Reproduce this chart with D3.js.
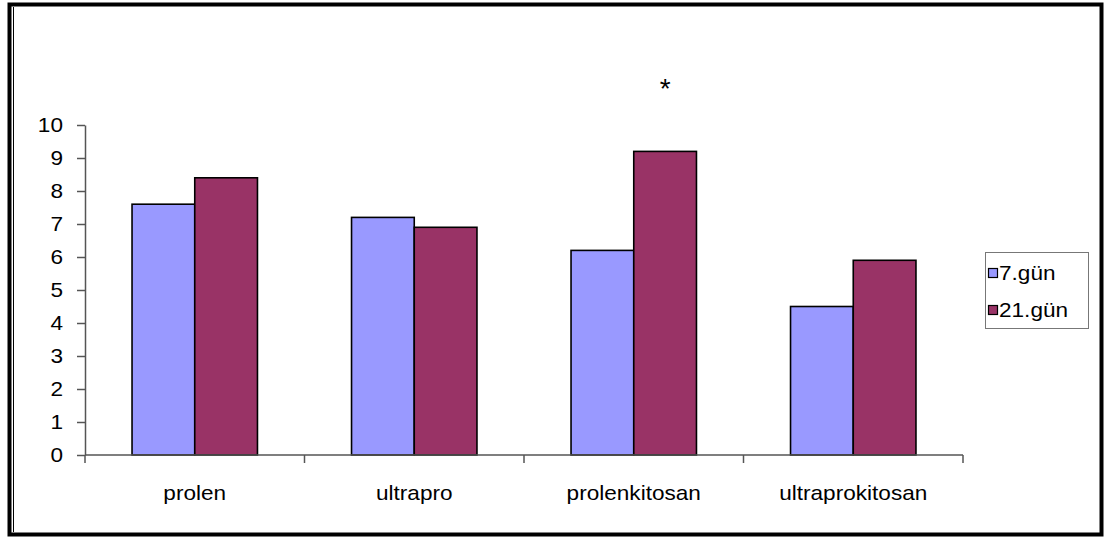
<!DOCTYPE html>
<html>
<head>
<meta charset="utf-8">
<script src="https://cdn.jsdelivr.net/npm/d3@7"></script>
<style>
  body { margin: 0; background: #fff; }
  text { font-family: "Liberation Sans", Arial, sans-serif; fill: #000; }
</style>
</head>
<body>
<script>
// chart data
const categories = ["prolen", "ultrapro", "prolenkitosan", "ultraprokitosan"];
const seriesNames = ["7.gün", "21.gün"];
const day7 = [7.6, 7.2, 6.2, 4.5];
const day21 = [8.4, 6.9, 9.2, 5.9];
const yTicks = [0, 1, 2, 3, 4, 5, 6, 7, 8, 9, 10];
// significance mark: category, series index, height in axis units
const marks = [{ cat: "prolenkitosan", series: 1, at: 11.4, label: "*" }];

const width = 1105, height = 538;
const colors = ["#9999ff", "#993366"];
const sx = 1.13; // source text looks stretched horizontally
const fs = 20;

const svg = d3.select("body").append("svg")
  .attr("width", width).attr("height", height);

// frame: thick outer border + thin inner line
svg.append("rect")
  .attr("x", 9.5).attr("y", 4.5).attr("width", 1092).attr("height", 530)
  .attr("fill", "none").attr("stroke", "#000").attr("stroke-width", 4);
svg.append("line").attr("x1", 13.5).attr("x2", 13.5).attr("y1", 7).attr("y2", 532)
  .attr("stroke", "#000").attr("stroke-width", 1);

const x = d3.scaleBand().domain(categories).range([85, 963]);
const xi = d3.scaleBand().domain([0, 1]).range([0, x.bandwidth()]).paddingOuter(0.75);
const y = d3.scaleLinear().domain([0, 10]).range([455, 125]);

const table = categories.map((c, i) => ({ cat: c, vals: [day7[i], day21[i]] }));

// bars
const groups = svg.append("g").selectAll("g")
  .data(table).join("g")
  .attr("transform", d => `translate(${x(d.cat)},0)`);

groups.selectAll("rect")
  .data(d => d.vals.map((v, k) => ({ k, v })))
  .join("rect")
  .attr("x", d => xi(d.k))
  .attr("width", xi.bandwidth())
  .attr("y", d => y(d.v))
  .attr("height", d => y(0) - y(d.v))
  .attr("fill", d => colors[d.k])
  .attr("stroke", "#000")
  .attr("stroke-width", 1.6);

// y axis
const yAxis = svg.append("g")
  .attr("transform", "translate(85,0)")
  .call(d3.axisLeft(y).tickValues(yTicks).tickSize(8).tickPadding(14).tickSizeOuter(0));
yAxis.select(".domain").attr("stroke", "#555").attr("stroke-width", 1.5);
yAxis.selectAll(".tick line").attr("stroke", "#555").attr("stroke-width", 1.5);
yAxis.selectAll(".tick text")
  .attr("font-size", fs)
  .attr("font-family", "Liberation Sans, Arial, sans-serif")
  .attr("fill", "#000")
  .attr("transform", function () {
    const t = d3.select(this);
    const xx = +t.attr("x");
    return `translate(${xx},0) scale(${sx},1) translate(${-xx},0)`;
  });

// x axis
const xg = svg.append("g");
xg.append("line")
  .attr("x1", x.range()[0]).attr("x2", x.range()[1])
  .attr("y1", y(0)).attr("y2", y(0))
  .attr("stroke", "#555").attr("stroke-width", 1.5);
const bounds = [x(categories[0])].concat(categories.map(c => x(c) + x.bandwidth()));
xg.selectAll(".xt").data(bounds).join("line")
  .attr("x1", d => d).attr("x2", d => d)
  .attr("y1", y(0)).attr("y2", y(0) + 8)
  .attr("stroke", "#555").attr("stroke-width", 1.5);
xg.selectAll("text").data(categories).join("text")
  .attr("transform", d => `translate(${x(d) + x.bandwidth() / 2},500) scale(${sx},1)`)
  .attr("text-anchor", "middle")
  .attr("font-size", fs)
  .text(d => d);

// significance marks
svg.selectAll(".mark").data(marks).join("text")
  .attr("class", "mark")
  .attr("transform", d => `translate(${x(d.cat) + xi(d.series) + xi.bandwidth() / 2},${y(d.at) + 19})`)
  .attr("text-anchor", "middle")
  .attr("font-size", 28)
  .text(d => d.label);

// legend
const legend = svg.append("g").attr("transform", "translate(985,252)");
legend.append("rect")
  .attr("x", 0.5).attr("y", 0.5).attr("width", 103).attr("height", 76)
  .attr("fill", "#fff").attr("stroke", "#777").attr("stroke-width", 1);
const li = legend.selectAll(".li").data(seriesNames).join("g")
  .attr("transform", (d, i) => `translate(0,${21 + i * 37})`);
li.append("rect")
  .attr("x", 3.5).attr("y", -4.5).attr("width", 9).attr("height", 9)
  .attr("fill", (d, i) => colors[i]).attr("stroke", "#000").attr("stroke-width", 1.2);
li.append("text")
  .attr("transform", `translate(14,7) scale(${sx},1)`)
  .attr("font-size", fs)
  .text(d => d);
</script>
</body>
</html>
